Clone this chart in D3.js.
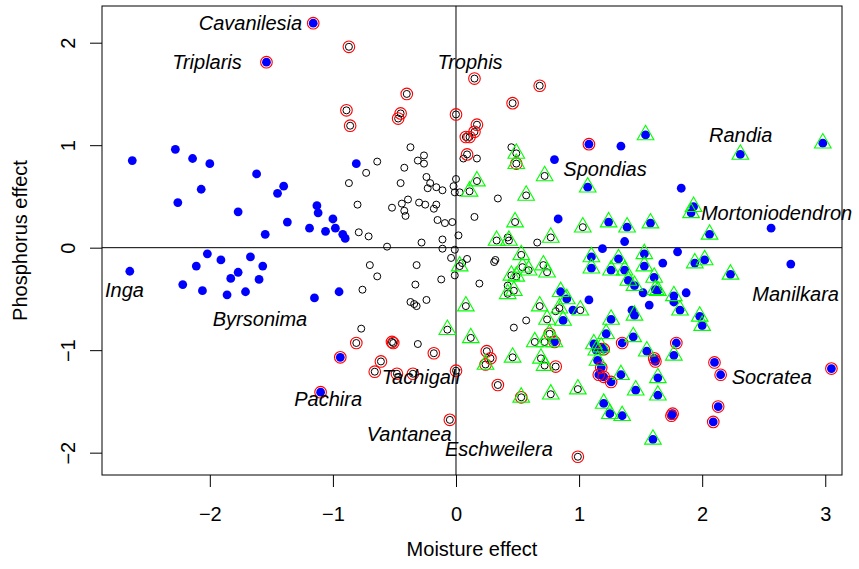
<!DOCTYPE html>
<html><head><meta charset="utf-8">
<script src="https://cdn.jsdelivr.net/npm/d3@7"></script>
<style>body{margin:0;background:#fff}svg{display:block}</style>
</head><body>
<svg id="c" width="859" height="569"></svg>
<script>
// ---------- data ----------
const xTicks = [-2, -1, 0, 1, 2, 3];
const yTicks = [-2, -1, 0, 1, 2];
const xLabel = "Moisture effect";
const yLabel = "Phosphorus effect";

// blue filled points (no other marker)
const blueOnly = [
 [-2.63,0.85],[-2.28,0.96],[-2.14,0.87],[-2.00,0.82],[-1.62,0.72],[-1.40,0.60],[-2.07,0.57],[-1.45,0.53],
 [-2.26,0.44],[-1.13,0.41],[-1.12,0.34],[-1.77,0.35],[-1.37,0.25],[-1.00,0.28],[-1.19,0.19],[-1.06,0.16],
 [-0.98,0.19],[-0.92,0.13],[-0.90,0.09],[-1.55,0.13],[-2.02,-0.06],[-1.91,-0.12],[-1.67,-0.09],[-2.11,-0.18],
 [-1.57,-0.18],[-2.65,-0.23],[-1.77,-0.24],[-1.83,-0.30],[-1.60,-0.31],[-2.22,-0.36],[-2.06,-0.42],[-1.71,-0.43],
 [-1.86,-0.46],[-1.15,-0.49],[-0.95,-0.43],[-0.81,0.82],[0.80,0.86],[1.34,0.99],[0.83,0.28],[1.83,0.58],
 [2.56,0.19],[1.37,0.06],[1.19,-0.01],[1.80,-0.04],[1.68,-0.15],[2.72,-0.16],[1.52,-0.44],[1.87,-0.44],
 [1.77,-0.53],[1.57,-0.56],[1.43,-0.61],[1.08,-0.51],[0.95,-0.61]
];
// blue filled points with red ring
const blueRed = [
 [-1.16,2.19],[-1.54,1.81],[1.08,1.01],[-0.94,-1.07],[-1.10,-1.41],[1.35,-0.93],[1.20,-0.99],[1.18,-1.17],
 [1.16,-1.24],[1.20,-1.26],[1.26,-1.31],[1.62,-1.11],[1.61,-1.08],[1.79,-0.93],[2.10,-1.12],[2.15,-1.24],
 [3.05,-1.18],[1.75,-1.64],[1.76,-1.62],[2.13,-1.55],[2.09,-1.70]
];
// blue filled points with green triangle
const blueGreen = [
 [1.54,1.10],[2.31,0.91],[2.98,1.02],[1.07,0.59],[1.93,0.40],[1.91,0.34],[2.06,0.13],[1.24,0.25],
 [1.39,0.20],[1.58,0.24],[1.53,-0.06],[1.32,-0.11],[1.94,-0.15],[2.02,-0.12],[1.53,-0.18],[1.26,-0.22],
 [1.37,-0.22],[2.23,-0.26],[1.61,-0.29],[1.40,-0.32],[1.45,-0.37],[1.62,-0.41],[1.64,-0.42],[1.77,-0.47],
 [1.82,-0.61],[1.45,-0.66],[1.26,-0.70],[1.98,-0.67],[2.00,-0.76],[1.10,-0.09],[1.10,-0.20],[0.85,-0.43],
 [0.90,-0.50],[0.87,-0.71],[1.22,-0.84],[1.44,-0.87],[1.12,-0.94],[1.18,-0.97],[1.14,-1.00],[1.55,-1.01],
 [1.15,-1.10],[1.77,-1.05],[1.34,-1.24],[1.64,-1.27],[1.46,-1.39],[1.64,-1.44],[1.20,-1.52],[1.25,-1.62],
 [1.35,-1.64],[1.60,-1.87]
];
// blue filled points with red ring and green triangle
const blueRedGreen = [[0.80,-0.92]];
// open circles only
const openOnly = [
 [-0.87,0.63],[-0.37,0.98],[-0.26,0.90],[-0.31,0.85],[-0.64,0.84],[0.06,0.87],[0.17,0.87],[-0.73,0.73],
 [-0.42,0.78],[-0.26,0.82],[-0.45,0.63],[-0.24,0.69],[-0.21,0.63],[-0.23,0.58],[-0.16,0.59],[-0.11,0.56],
 [0.00,0.67],[-0.02,0.60],[-0.01,0.54],[0.03,0.54],[-0.80,0.42],[-0.52,0.39],[-0.39,0.47],[-0.44,0.43],
 [-0.42,0.36],[-0.41,0.31],[-0.30,0.44],[-0.25,0.42],[-0.16,0.42],[-0.18,0.38],[-0.15,0.27],[-0.09,0.24],
 [-0.03,0.25],[0.02,0.12],[-0.79,0.15],[-0.71,0.11],[-0.28,0.05],[-0.11,0.08],[-0.11,-0.01],[-0.56,0.01],
 [-0.01,-0.02],[-0.04,-0.10],[0.09,-0.11],[0.05,-0.15],[-0.70,-0.17],[-0.64,-0.28],[-0.32,-0.17],[-0.12,-0.31],
 [-0.01,-0.27],[-0.76,-0.41],[-0.33,-0.36],[-0.24,-0.51],[-0.37,-0.53],[-0.34,-0.55],[-0.32,-0.57],[0.19,-0.35],
 [0.31,-0.14],[0.32,-0.12],[-0.77,-0.79],[0.34,0.48],[0.15,0.30],[0.66,0.05],[0.42,0.10],[0.42,-0.37],
 [0.81,-0.62],[0.57,-0.71],[0.47,-0.78],[-0.31,-0.94],[0.45,0.98]
];
// open circles with red ring
const openRed = [
 [-0.87,1.96],[-0.89,1.34],[-0.86,1.19],[0.15,1.65],[0.68,1.58],[0.46,1.41],[-0.40,1.50],[0.00,1.30],
 [-0.45,1.31],[-0.47,1.26],[0.17,1.20],[0.15,1.13],[0.08,1.08],[0.11,1.08],[0.09,0.91],[-0.81,-0.93],
 [-0.52,-0.92],[-0.51,-0.93],[-0.18,-1.03],[-0.61,-1.11],[-0.66,-1.21],[-0.48,-1.23],[-0.35,-1.23],[0.00,-1.20],
 [-0.05,-1.68],[0.99,-2.04],[0.25,-1.01],[0.28,-1.08],[0.34,-1.34],[0.81,-1.16]
];
// open circles with green triangle
const openGreen = [
 [0.49,0.92],[0.72,0.70],[0.17,0.65],[0.11,0.55],[0.57,0.51],[0.48,0.25],[1.03,0.20],[0.77,0.10],
 [0.33,0.07],[0.43,0.07],[0.53,-0.07],[0.54,-0.19],[0.59,-0.22],[0.71,-0.17],[0.74,-0.24],[0.45,-0.27],
 [0.49,-0.28],[0.47,-0.42],[0.42,-0.45],[0.03,-0.18],[0.08,-0.57],[-0.07,-0.80],[1.01,-0.61],[0.84,-0.59],
 [0.68,-0.57],[0.74,-0.70],[0.12,-0.88],[0.46,-1.07],[0.64,-0.92],[0.72,-0.92],[0.69,-1.08],[0.72,-1.15],
 [0.77,-1.43],[0.99,-1.38]
];
// open circles with red ring and green triangle
const openRedGreen = [[0.24,-1.14],[0.53,-1.46],[0.76,-0.84],[0.49,0.82]];

// species labels: name, x, y (data units), anchor
const speciesNames  = ["Cavanilesia","Triplaris","Trophis","Randia","Spondias","Mortoniodendron","Manilkara","Socratea","Inga","Byrsonima","Pachira","Tachigali","Vantanea","Eschweilera"];
const speciesX      = [-1.25,-1.74,0.114,2.313,0.872,1.990,2.407,2.240,-2.852,-1.976,-1.314,-0.604,-0.725,-0.089];
const speciesY      = [2.19,1.81,1.81,1.095,0.768,0.339,-0.449,-1.259,-0.413,-0.693,-1.478,-1.266,-1.820,-1.961];
const speciesAnchor = ["end","end","middle","middle","start","start","start","start","start","start","start","start","start","start"];

// ---------- drawing ----------
const L = 102, R = 842, T = 6, B = 475;
const x = d3.scaleLinear().domain([-2.876, 3.136]).range([L, R]);
const y = d3.scaleLinear().domain([-2.218, 2.358]).range([B, T]);
const FONT = "'Liberation Sans', Arial, Helvetica, sans-serif";
const svg = d3.select("#c").style("font-family", FONT);
svg.append("rect").attr("width", 859).attr("height", 569).attr("fill", "#fff");

// zero reference lines
svg.append("line").attr("x1", x(0)).attr("x2", x(0)).attr("y1", T).attr("y2", B)
  .attr("stroke", "#000").attr("stroke-width", 1);
svg.append("line").attr("x1", L).attr("x2", R).attr("y1", y(0)).attr("y2", y(0))
  .attr("stroke", "#000").attr("stroke-width", 1);

const fmt = d => d < 0 ? "\u2212" + Math.abs(d) : String(d);

// axes
const gx = svg.append("g").attr("transform", `translate(0,${B})`)
  .call(d3.axisBottom(x).tickValues(xTicks).tickSize(12).tickPadding(20).tickFormat(fmt));
const gy = svg.append("g").attr("transform", `translate(${L},0)`)
  .call(d3.axisLeft(y).tickValues(yTicks).tickSize(12).tickFormat(fmt));
[gx, gy].forEach(g => {
  g.select(".domain").remove();
  g.selectAll(".tick line").attr("stroke", "#000");
  g.selectAll(".tick text").attr("fill", "#000").style("font-size", "20px").style("font-family", FONT);
});
gy.selectAll(".tick text").attr("x", null).attr("dy", null)
  .attr("text-anchor", "middle")
  .attr("transform", "translate(-27,0) rotate(-90)");

// axis titles
svg.append("text").attr("x", (L + R) / 2).attr("y", 549).attr("text-anchor", "middle")
  .attr("dy", "0.35em").style("font-size", "20px").text(xLabel);
svg.append("text").attr("transform", `translate(20,${(T + B) / 2}) rotate(-90)`)
  .attr("text-anchor", "middle").attr("dy", "0.35em").style("font-size", "20px").text(yLabel);

// markers
const plot = svg.append("g");
const openAll = [].concat(openOnly, openRed, openGreen, openRedGreen);
const blueAll = [].concat(blueOnly, blueRed, blueGreen, blueRedGreen);
const redAll = [].concat(blueRed, blueRedGreen, openRed, openRedGreen);
const greenAll = [].concat(blueGreen, blueRedGreen, openGreen, openRedGreen);

plot.selectAll(".o").data(openAll).join("circle")
  .attr("cx", d => x(d[0])).attr("cy", d => y(d[1])).attr("r", 3.5)
  .attr("fill", "none").attr("stroke", "#000").attr("stroke-width", 1);
plot.selectAll(".b").data(blueAll).join("circle")
  .attr("cx", d => x(d[0])).attr("cy", d => y(d[1])).attr("r", 4.4)
  .attr("fill", "#0000ff");
plot.selectAll(".r").data(redAll).join("circle")
  .attr("cx", d => x(d[0])).attr("cy", d => y(d[1])).attr("r", 5.8)
  .attr("fill", "none").attr("stroke", "#ff0000").attr("stroke-width", 1.1);
const tr = 9.6;
const triPath = d => {
  const cx = x(d[0]), cy = y(d[1]);
  const xc = tr * Math.sqrt(3) / 2, yc = tr / 2;
  return `M${cx},${cy - tr}L${cx + xc},${cy + yc}L${cx - xc},${cy + yc}Z`;
};
plot.selectAll(".g").data(greenAll).join("path")
  .attr("d", triPath).attr("fill", "none").attr("stroke", "#00ff00").attr("stroke-width", 1.1);

// species labels
svg.append("g").selectAll("text").data(speciesNames).join("text")
  .attr("x", (d, i) => x(speciesX[i])).attr("y", (d, i) => y(speciesY[i]))
  .attr("dy", "0.35em").attr("text-anchor", (d, i) => speciesAnchor[i])
  .style("font-size", "20px").style("font-style", "italic").text(d => d);

// box
svg.append("rect").attr("x", L).attr("y", T).attr("width", R - L).attr("height", B - T)
  .attr("fill", "none").attr("stroke", "#000").attr("stroke-width", 1);
</script>
</body></html>
